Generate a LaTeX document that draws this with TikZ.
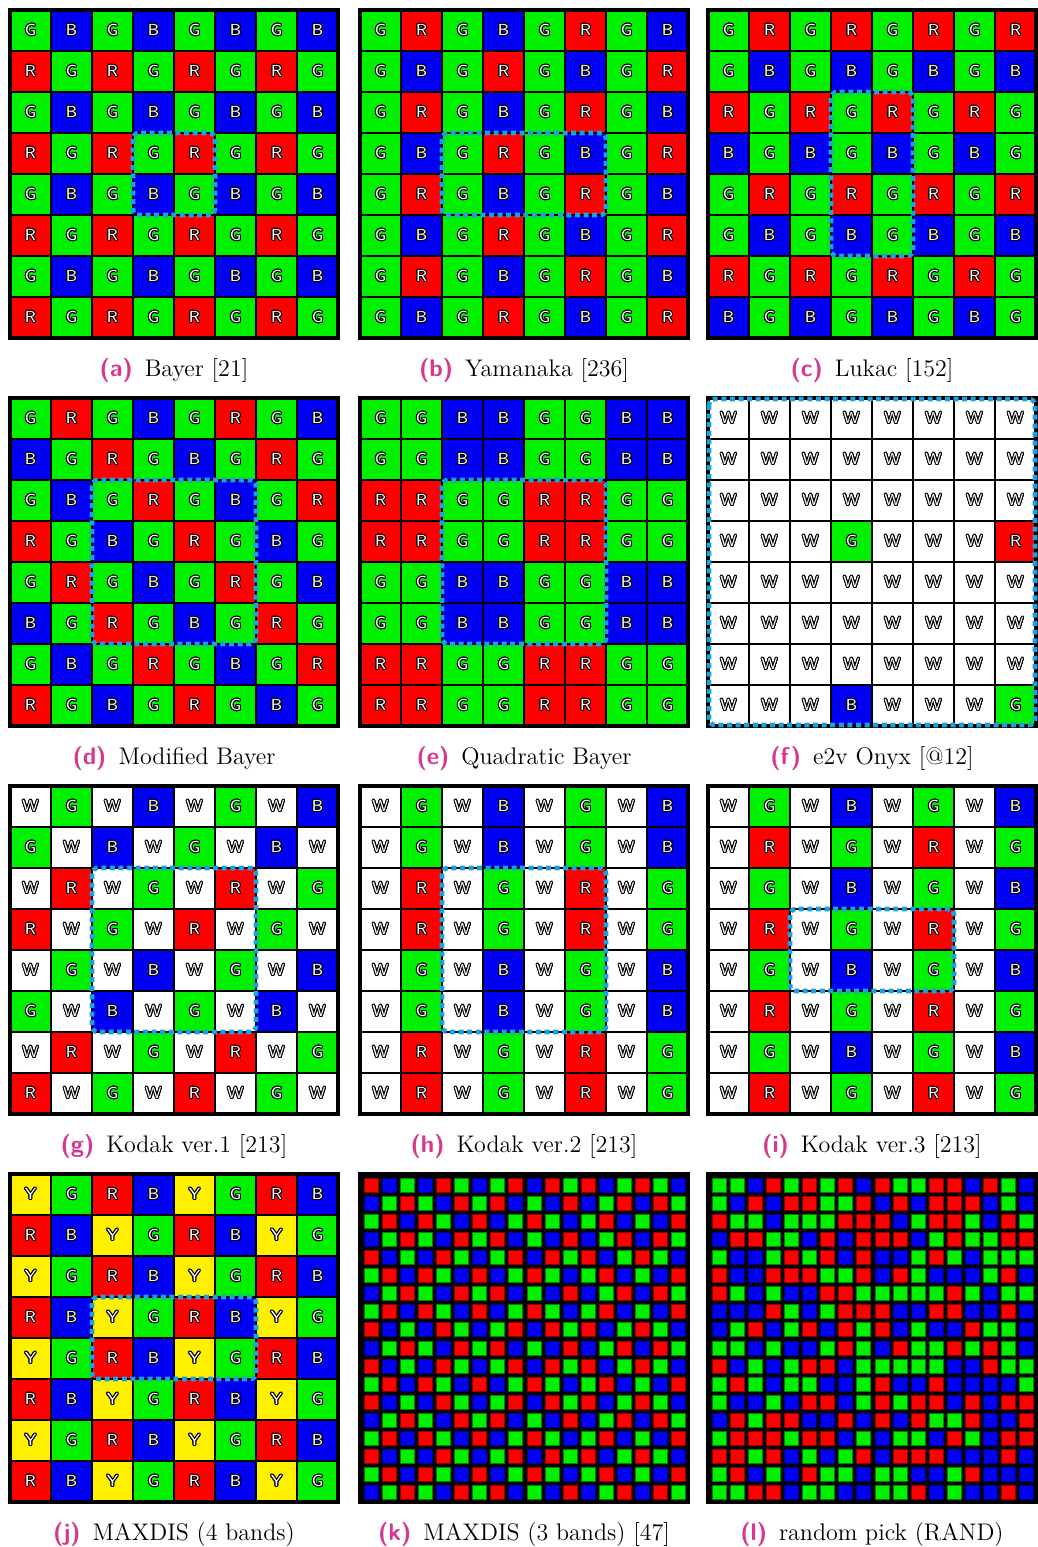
\documentclass[tikz,border=0pt]{standalone}
\usepackage{xcolor}
\usepackage{tikz}
\usepackage[copies]{contour}
\definecolor{cfaR}{HTML}{FF0000}
\definecolor{cfaG}{HTML}{00F000}
\definecolor{cfaB}{HTML}{0000F5}
\definecolor{cfaW}{HTML}{FFFFFF}
\definecolor{cfaY}{HTML}{FFF000}
\definecolor{hiblue}{HTML}{1BA1E2}
\definecolor{capmag}{HTML}{D6378C}
\contourlength{0.5pt}
\contournumber{16}

% 8x8 pattern with letters: name, origin, rows
\newcommand\lettergrid[3]{%
  \begin{scope}[shift={#2}]
    \foreach \rowcells [count=\r from 0] in {#3} {
      \foreach \hue [count=\k from 0] in \rowcells {
        \filldraw[cell, fill=cfa\hue] (\k*41,\r*41) rectangle ++(41,41);
        \node[letter] (#1-\r-\k) at (\k*41+20.5,\r*41+20.5) {\contour{black}{\hue}};
      }
    }
    \draw[frame] (0,0) rectangle (328,328);
  \end{scope}}

% 18x18 pattern of small squares: origin, rows
\newcommand\dotgrid[2]{%
  \begin{scope}[shift={#1}]
    \fill[black] (-2,-2) rectangle (330,330);
    \foreach \rowcells [count=\r from 0] in {#2} {
      \foreach \hue [count=\k from 0] in \rowcells {
        \filldraw[dot, fill=cfa\hue, draw=cfa\hue!55!black]
          (\k*18.06+4.5,\r*18.06+4.5) rectangle ++(14,14);
      }
    }
  \end{scope}}

\newcommand\tagof[1]{\textcolor{capmag}{\sffamily\bfseries #1}\enspace}

\begin{document}
\begin{tikzpicture}[x=0.5pt, y=-0.5pt,
    cell/.style={draw=black, line width=1pt},
    letter/.style={text=white, inner sep=0pt,
                   font=\fontsize{8}{8}\selectfont\sffamily},
    frame/.style={draw=black, line width=2pt},
    dot/.style={line width=0.5pt},
    hilite/.style={draw=hiblue, line width=2.3pt,
                   dash pattern=on 2.5pt off 1.8pt, rounded corners=3pt},
    caption/.style={anchor=base, font=\fontsize{12}{14}\selectfont},
]
\useasboundingbox (0,0) rectangle (1038,1547);

% Row 1
\lettergrid{bayer}{(10,10)}{{G,B,G,B,G,B,G,B},{R,G,R,G,R,G,R,G},{G,B,G,B,G,B,G,B},{R,G,R,G,R,G,R,G},
  {G,B,G,B,G,B,G,B},{R,G,R,G,R,G,R,G},{G,B,G,B,G,B,G,B},{R,G,R,G,R,G,R,G}}
\lettergrid{yama}{(360,10)}{{G,R,G,B,G,R,G,B},{G,B,G,R,G,B,G,R},{G,R,G,B,G,R,G,B},{G,B,G,R,G,B,G,R},
  {G,R,G,B,G,R,G,B},{G,B,G,R,G,B,G,R},{G,R,G,B,G,R,G,B},{G,B,G,R,G,B,G,R}}
\lettergrid{lukac}{(708,10)}{{G,R,G,R,G,R,G,R},{G,B,G,B,G,B,G,B},{R,G,R,G,R,G,R,G},{B,G,B,G,B,G,B,G},
  {G,R,G,R,G,R,G,R},{G,B,G,B,G,B,G,B},{R,G,R,G,R,G,R,G},{B,G,B,G,B,G,B,G}}

% Row 2
\lettergrid{modb}{(10,398)}{{G,R,G,B,G,R,G,B},{B,G,R,G,B,G,R,G},{G,B,G,R,G,B,G,R},{R,G,B,G,R,G,B,G},
  {G,R,G,B,G,R,G,B},{B,G,R,G,B,G,R,G},{G,B,G,R,G,B,G,R},{R,G,B,G,R,G,B,G}}
\lettergrid{quad}{(360,398)}{{G,G,B,B,G,G,B,B},{G,G,B,B,G,G,B,B},{R,R,G,G,R,R,G,G},{R,R,G,G,R,R,G,G},
  {G,G,B,B,G,G,B,B},{G,G,B,B,G,G,B,B},{R,R,G,G,R,R,G,G},{R,R,G,G,R,R,G,G}}
\lettergrid{onyx}{(708,398)}{{W,W,W,W,W,W,W,W},{W,W,W,W,W,W,W,W},{W,W,W,W,W,W,W,W},{W,W,W,G,W,W,W,R},
  {W,W,W,W,W,W,W,W},{W,W,W,W,W,W,W,W},{W,W,W,W,W,W,W,W},{W,W,W,B,W,W,W,G}}

% Row 3
\lettergrid{kodA}{(10,786)}{{W,G,W,B,W,G,W,B},{G,W,B,W,G,W,B,W},{W,R,W,G,W,R,W,G},{R,W,G,W,R,W,G,W},
  {W,G,W,B,W,G,W,B},{G,W,B,W,G,W,B,W},{W,R,W,G,W,R,W,G},{R,W,G,W,R,W,G,W}}
\lettergrid{kodB}{(360,786)}{{W,G,W,B,W,G,W,B},{W,G,W,B,W,G,W,B},{W,R,W,G,W,R,W,G},{W,R,W,G,W,R,W,G},
  {W,G,W,B,W,G,W,B},{W,G,W,B,W,G,W,B},{W,R,W,G,W,R,W,G},{W,R,W,G,W,R,W,G}}
\lettergrid{kodC}{(708,786)}{{W,G,W,B,W,G,W,B},{W,R,W,G,W,R,W,G},{W,G,W,B,W,G,W,B},{W,R,W,G,W,R,W,G},
  {W,G,W,B,W,G,W,B},{W,R,W,G,W,R,W,G},{W,G,W,B,W,G,W,B},{W,R,W,G,W,R,W,G}}

% Row 4
\lettergrid{maxd}{(10,1174)}{{Y,G,R,B,Y,G,R,B},{R,B,Y,G,R,B,Y,G},{Y,G,R,B,Y,G,R,B},{R,B,Y,G,R,B,Y,G},
  {Y,G,R,B,Y,G,R,B},{R,B,Y,G,R,B,Y,G},{Y,G,R,B,Y,G,R,B},{R,B,Y,G,R,B,Y,G}}
\dotgrid{(360,1174)}{
  {R,B,G,B,R,G,B,G,R,B,R,G,R,B,G,R,G,B},{B,G,R,G,B,R,G,R,B,G,B,R,B,G,R,B,R,G},
  {G,R,B,R,G,B,R,B,G,R,G,B,G,R,B,G,B,R},{B,G,R,G,B,R,G,R,B,G,B,R,B,G,R,B,R,G},
  {R,B,G,B,R,G,B,G,R,B,R,G,R,B,G,R,G,B},{G,R,B,R,G,B,R,B,G,R,G,B,G,R,B,G,B,R},
  {B,G,R,G,B,R,G,R,B,G,B,R,B,G,R,B,R,G},{G,R,B,R,G,B,R,B,G,R,G,B,G,R,B,G,B,R},
  {R,B,G,B,R,G,B,G,R,B,R,G,R,B,G,R,G,B},{B,G,R,G,B,R,G,R,B,G,B,R,B,G,R,B,R,G},
  {R,B,G,B,R,G,B,G,R,B,R,G,R,B,G,R,G,B},{G,R,B,R,G,B,R,B,G,R,G,B,G,R,B,G,B,R},
  {R,B,G,B,R,G,B,G,R,B,R,G,R,B,G,R,G,B},{B,G,R,G,B,R,G,R,B,G,B,R,B,G,R,B,R,G},
  {G,R,B,R,G,B,R,B,G,R,G,B,G,R,B,G,B,R},{R,B,G,B,R,G,B,G,R,B,R,G,R,B,G,R,G,B},
  {G,R,B,R,G,B,R,B,G,R,G,B,G,R,B,G,B,R},{B,G,R,G,B,R,G,R,B,G,B,R,B,G,R,B,R,G}}
\dotgrid{(708,1174)}{
  {G,G,B,R,G,R,G,R,B,R,G,G,R,R,B,R,G,B},{G,B,R,B,R,R,G,G,R,B,R,B,R,R,R,B,G,B},
  {R,G,G,B,G,G,G,R,R,R,B,G,R,R,G,B,R,G},{B,R,R,G,G,B,R,B,R,R,R,B,G,R,G,G,R,R},
  {G,B,B,G,R,G,R,B,R,B,B,G,R,G,B,G,G,G},{R,B,B,R,R,R,G,G,R,B,R,G,B,B,B,G,R,B},
  {R,G,B,G,B,B,R,R,G,G,G,G,G,R,G,B,G,G},{B,B,B,R,G,B,G,R,R,R,B,B,R,R,B,B,R,B},
  {B,G,R,B,G,R,B,R,G,R,B,G,B,B,R,G,G,B},{G,G,B,G,B,B,G,R,G,B,R,G,G,R,G,R,G,B},
  {R,B,G,B,G,R,R,B,G,G,G,G,G,B,B,R,G,G},{G,R,G,B,G,G,B,B,G,R,B,B,R,B,B,B,B,G},
  {G,B,B,G,B,R,R,B,G,R,G,R,R,B,R,B,R,R},{B,R,G,R,R,B,B,R,B,R,B,R,G,G,R,B,B,R},
  {G,R,R,R,G,R,R,B,G,B,G,G,B,R,G,B,R,R},{R,R,G,R,B,G,B,G,R,B,R,R,R,B,B,B,R,B},
  {G,R,B,G,B,R,G,G,B,G,G,B,B,G,R,B,B,B},{G,G,R,R,B,G,G,B,B,G,G,R,B,G,B,B,R,B}}

% Highlighted repeating units
\draw[hilite, shift={(10,10)}]   (3*41,3*41) rectangle (5*41,5*41);
\draw[hilite, shift={(360,10)}]  (2*41,3*41) rectangle (6*41,5*41);
\draw[hilite, shift={(708,10)}]  (3*41,2*41) rectangle (5*41,6*41);
\draw[hilite, shift={(10,398)}]  (2*41,2*41) rectangle (6*41,6*41);
\draw[hilite, shift={(360,398)}] (2*41,2*41) rectangle (6*41,6*41);
\draw[hilite, shift={(708,398)}] (1,1) rectangle (8*41-1,8*41-1);
\draw[hilite, shift={(10,786)}]  (2*41,2*41) rectangle (6*41,6*41);
\draw[hilite, shift={(360,786)}] (2*41,2*41) rectangle (6*41,6*41);
\draw[hilite, shift={(708,786)}] (2*41,3*41) rectangle (6*41,5*41);
\draw[hilite, shift={(10,1174)}] (2*41,3*41) rectangle (6*41,5*41);

% Captions
\node[caption] (cap-a) at (174,376)  {\tagof{(a)}Bayer [21]};
\node[caption] (cap-b) at (524,376)  {\tagof{(b)}Yamanaka [236]};
\node[caption] (cap-c) at (872,376)  {\tagof{(c)}Lukac [152]};
\node[caption] (cap-d) at (174,764)  {\tagof{(d)}Modified Bayer};
\node[caption] (cap-e) at (524,764)  {\tagof{(e)}Quadratic Bayer};
\node[caption] (cap-f) at (872,764)  {\tagof{(f)}e2v Onyx [@12]};
\node[caption] (cap-g) at (174,1152) {\tagof{(g)}Kodak ver.1 [213]};
\node[caption] (cap-h) at (524,1152) {\tagof{(h)}Kodak ver.2 [213]};
\node[caption] (cap-i) at (872,1152) {\tagof{(i)}Kodak ver.3 [213]};
\node[caption] (cap-j) at (174,1540) {\tagof{(j)}MAXDIS (4 bands)};
\node[caption] (cap-k) at (524,1540) {\tagof{(k)}MAXDIS (3 bands) [47]};
\node[caption] (cap-l) at (872,1540) {\tagof{(l)}random pick (RAND)};

\end{tikzpicture}
\end{document}
